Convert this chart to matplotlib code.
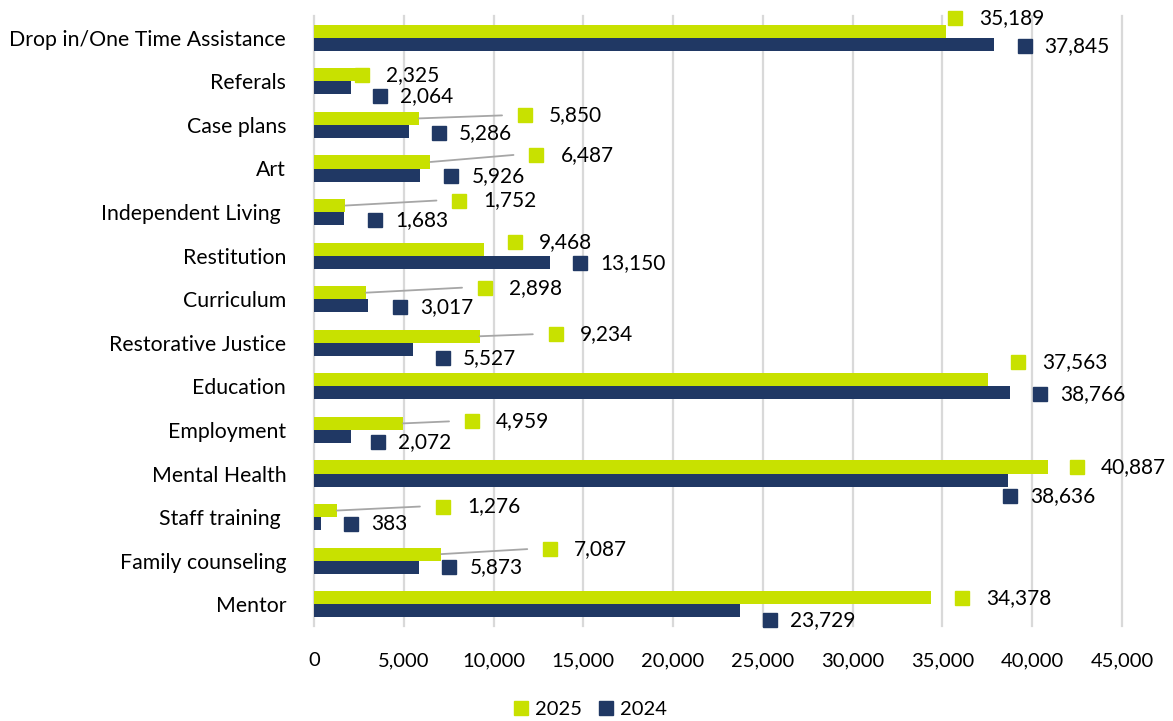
import matplotlib
matplotlib.use("Agg")
import matplotlib.pyplot as plt
import numpy as np
from matplotlib.lines import Line2D
from matplotlib.ticker import FuncFormatter
import matplotlib.transforms as mtrans

plt.rcParams['font.family'] = ['Lato', 'DejaVu Sans']

categories = ["Drop in/One Time Assistance", "Referals", "Case plans", "Art",
              "Independent Living ", "Restitution", "Curriculum", "Restorative Justice",
              "Education", "Employment", "Mental Health", "Staff training ",
              "Family counseling", "Mentor"]
values_2025 = [35189, 2325, 5850, 6487, 1752, 9468, 2898, 9234, 37563, 4959, 40887, 1276, 7087, 34378]
values_2024 = [37845, 2064, 5286, 5926, 1683, 13150, 3017, 5527, 38766, 2072, 38636, 383, 5873, 23729]
x_ticks = [0, 5000, 10000, 15000, 20000, 25000, 30000, 35000, 40000, 45000]

# label placement (pixel offsets of legend-key centre from bar end; dy down-positive)
off_2025 = [(9, -13), (6, 0), (106, -3), (106, -7), (114, -5), (31, -7), (119, -5),
            (76, -2), (30, -18), (69, -2), (29, 0), (106, -4), (109, -5), (31, 0)]
off_2024 = [(31, 2), (29, 8), (30, 2), (31, 1), (31, 1), (30, 1), (32, 1),
            (30, 9), (30, 1), (27, 6), (2, 16), (30, 0), (30, 0), (30, 9)]
leader_2025 = [False, False, True, True, True, False, True, True, False, True, False, True, True, False]

C25 = "#c8e100"
C24 = "#203864"
GRID = "#d9d9d9"
LEAD = "#a6a6a6"

W, H = 1173, 721
fig = plt.figure(figsize=(W / 100, H / 100), dpi=100)
ax = fig.add_axes([314 / W, 1 - 626 / H, (1122 - 314) / W, (626 - 16) / H])

n = len(categories)
y = np.arange(n)
bh = 0.3
ax.barh(y - bh / 2, values_2025, height=bh, color=C25, zorder=3)
ax.barh(y + bh / 2, values_2024, height=bh, color=C24, zorder=3)

ax.set_xlim(0, 45000)
ax.set_ylim(n - 0.5, -0.5)
ax.set_xticks(x_ticks)
ax.xaxis.set_major_formatter(FuncFormatter(lambda v, p: f"{int(v):,}"))
ax.set_yticks(y)
ax.set_yticklabels(categories)
ax.tick_params(axis='y', length=0, pad=20, labelsize=15.3)
ax.tick_params(axis='x', length=0, pad=19, labelsize=14.5)
for s in ax.spines.values():
    s.set_visible(False)
ax.grid(axis='x', color=GRID, linewidth=1.6, zorder=0)
for gl in ax.get_xgridlines():
    gl.set_clip_on(False)

fs = 15
for vals, offs, col, ysh, gap in [(values_2025, off_2025, C25, -bh / 2, 24),
                                    (values_2024, off_2024, C24, bh / 2, 20)]:
    for i, (v, (dx, dy)) in enumerate(zip(vals, offs)):
        tr = mtrans.offset_copy(ax.transData, fig=fig, x=dx, y=-dy, units='dots')
        ax.plot([v], [i + ysh], marker='s', markersize=10, color=col,
                linestyle='none', transform=tr, zorder=5, clip_on=False)
        ax.annotate(f"{v:,}", xy=(v, i + ysh), xycoords='data',
                    xytext=(dx + gap, -dy), textcoords='offset pixels',
                    ha='left', va='center', fontsize=fs, color='#000000',
                    annotation_clip=False, zorder=6)

for i, (v, (dx, dy)) in enumerate(zip(values_2025, off_2025)):
    if leader_2025[i]:
        ax.annotate('', xy=(v, i - bh / 2), xycoords='data',
                    xytext=(dx - 23, -dy), textcoords='offset pixels',
                    arrowprops=dict(arrowstyle='-', color=LEAD, lw=1.3,
                                    shrinkA=0, shrinkB=0), zorder=4)

handles = [Line2D([], [], marker='s', markersize=10, color=C25, linestyle='none'),
           Line2D([], [], marker='s', markersize=10, color=C24, linestyle='none')]
fig.legend(handles, ["2025", "2024"], loc='center', bbox_to_anchor=(0.503, 0.016),
           ncol=2, frameon=False, fontsize=14.5, handlelength=0.8, handletextpad=0.3,
           columnspacing=0.8)

fig.savefig("out.png", dpi=100)
